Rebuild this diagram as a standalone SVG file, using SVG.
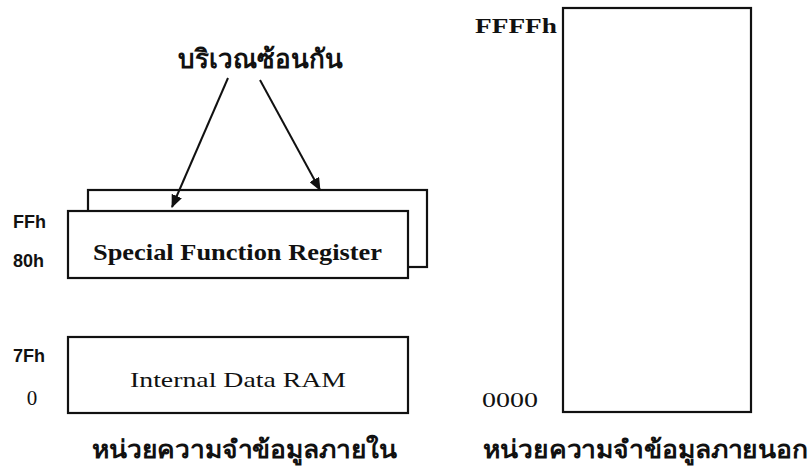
<svg xmlns="http://www.w3.org/2000/svg" width="811" height="475" viewBox="0 0 811 475">
<defs>
<style>
.box{fill:#fff;stroke:#111;stroke-width:2.2}
.serif{font-family:"Liberation Serif","DejaVu Serif",serif;fill:#111}
.sans{font-family:"Liberation Sans","DejaVu Sans",sans-serif;font-weight:bold;fill:#111;font-size:18px}
.thai{font-family:"Noto Sans","DejaVu Sans",sans-serif;fill:#111;font-weight:bold}
.conn{stroke:#111;stroke-width:2;fill:none}
</style>
<marker id="ah" markerWidth="13" markerHeight="11" refX="12" refY="5.5" orient="auto" markerUnits="userSpaceOnUse">
<path d="M0,0 L13,5.5 L0,11 Z" fill="#111"/>
</marker>
</defs>
<rect x="0" y="0" width="811" height="475" fill="#fff"/>
<g id="overlap-label">
<text class="thai" x="260" y="68" font-size="26" text-anchor="middle">บริเวณซ้อนกัน</text>
</g>
<g id="sfr-back">
<rect class="box" x="88" y="190" width="339" height="77"/>
</g>
<g id="sfr">
<rect class="box" x="68" y="211" width="340" height="67"/>
<text class="serif" x="93" y="260" font-size="24" font-weight="bold" textLength="289" lengthAdjust="spacingAndGlyphs">Special Function Register</text>
<text class="sans" x="13" y="228">FFh</text>
<text class="sans" x="13" y="267">80h</text>
</g>
<g id="ram">
<rect class="box" x="68" y="337" width="340" height="76"/>
<text class="serif" x="130" y="387" font-size="22" textLength="216" lengthAdjust="spacingAndGlyphs">Internal Data RAM</text>
<text class="sans" x="13" y="362">7Fh</text>
<text class="serif" x="32" y="405" font-size="21" text-anchor="middle">0</text>
</g>
<g id="internal-label">
<text class="thai" x="92" y="458" font-size="25" textLength="305" lengthAdjust="spacingAndGlyphs">หน่วยความจำข้อมูลภายใน</text>
</g>
<g id="external">
<rect class="box" x="563" y="8" width="188" height="404"/>
<text class="serif" x="475" y="33" font-size="22" font-weight="bold" textLength="82" lengthAdjust="spacingAndGlyphs">FFFFh</text>
<text class="serif" x="482" y="407" font-size="22" textLength="56" lengthAdjust="spacingAndGlyphs">0000</text>
</g>
<g id="external-label">
<text class="thai" x="483" y="458" font-size="25" textLength="325" lengthAdjust="spacingAndGlyphs">หน่วยความจำข้อมูลภายนอก</text>
</g>
<g id="connectors">
<line class="conn" x1="228" y1="78" x2="172" y2="207" marker-end="url(#ah)"/>
<line class="conn" x1="260" y1="80" x2="320" y2="190" marker-end="url(#ah)"/>
</g>
</svg>
